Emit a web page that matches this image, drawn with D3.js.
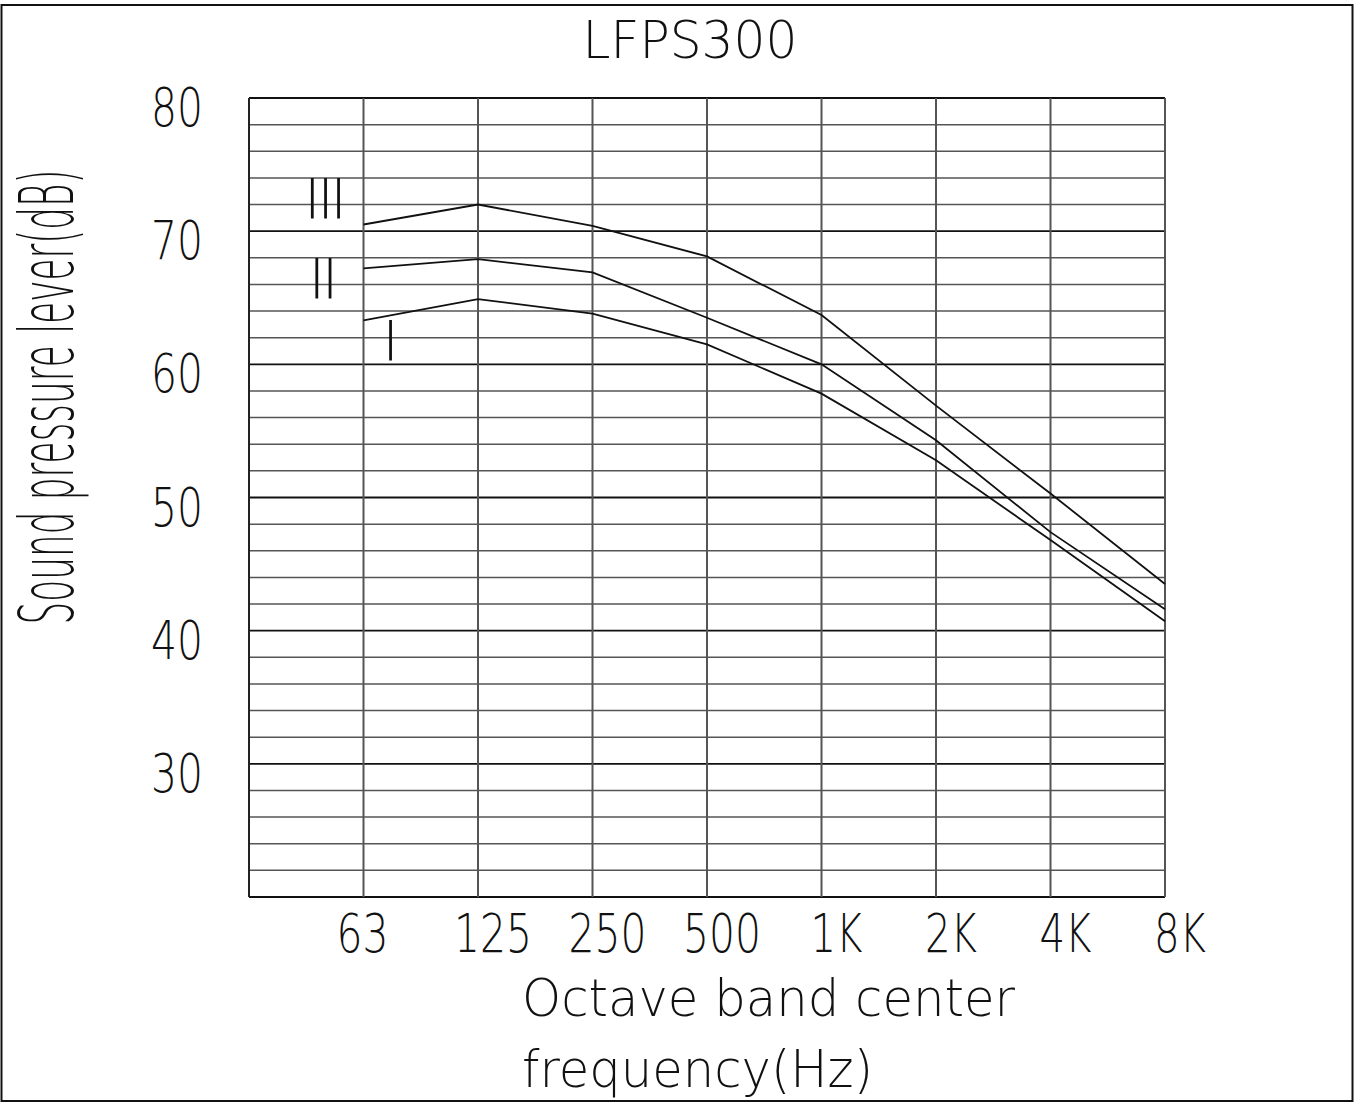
<!DOCTYPE html>
<html>
  <head>
    <meta charset="utf-8">
    <title>LFPS300</title>
    <script src="https://d3js.org/d3.v7.min.js"></script>
    <style>
      body { margin: 0; background: #fff; }
      text { font-family: "DejaVu Sans", sans-serif; font-weight: 200; fill: #111; }
    </style>
  </head>
  <body>
    <script type="text/javascript">

      //Data
      var bands = ["63", "125", "250", "500", "1K", "2K", "4K", "8K"];
      var seriesNames = ["III", "II", "I"];
      var levelIII = [70.5, 72.0, 70.4, 68.1, 63.7, 56.9, 50.3, 43.5];
      var levelII  = [67.2, 67.9, 66.9, 63.5, 60.0, 54.3, 47.4, 41.6];
      var levelI   = [63.3, 64.9, 63.8, 61.5, 57.8, 52.8, 46.8, 40.7];
      var yTicks = [30, 40, 50, 60, 70, 80];

      var series = [levelIII, levelII, levelI];

      //Width and height
      var w = 1355;
      var h = 1103;

      var svg = d3.select("body")
                  .append("svg")
                  .attr("width", w)
                  .attr("height", h);

      //Outer frame
      svg.append("rect")
         .attr("x", 1.5)
         .attr("y", 5)
         .attr("width", 1351)
         .attr("height", 1096)
         .attr("fill", "none")
         .attr("stroke", "#111")
         .attr("stroke-width", 2);

      //Scales (first column is left empty, 63 Hz sits on the 2nd line)
      var xScale = d3.scaleLinear()
                     .domain([-1, bands.length - 1])
                     .range([249, 1165]);

      var yScale = d3.scaleLinear()
                     .domain([20, 80])
                     .range([897, 98]);

      //Horizontal grid, every 2 dB
      var gridY = d3.range(20, 81, 2);
      svg.append("g")
         .selectAll("line")
         .data(gridY)
         .enter()
         .append("line")
         .attr("x1", xScale(-1))
         .attr("x2", xScale(bands.length - 1))
         .attr("y1", function(d) { return yScale(d); })
         .attr("y2", function(d) { return yScale(d); })
         .attr("stroke", function(d) { return d % 10 === 0 ? "#111" : "#555"; })
         .attr("stroke-width", function(d) { return d % 10 === 0 ? 1.8 : 1.5; });

      //Vertical grid
      svg.append("g")
         .selectAll("line")
         .data(d3.range(-1, bands.length))
         .enter()
         .append("line")
         .attr("x1", function(d) { return xScale(d); })
         .attr("x2", function(d) { return xScale(d); })
         .attr("y1", yScale(80))
         .attr("y2", yScale(20))
         .attr("stroke", function(d) { return d === -1 ? "#222" : "#555"; })
         .attr("stroke-width", 2);

      //Curves
      var line = d3.line()
                   .x(function(d, i) { return xScale(i); })
                   .y(function(d) { return yScale(d); });

      svg.append("g")
         .selectAll("path")
         .data(series)
         .enter()
         .append("path")
         .attr("d", line)
         .attr("fill", "none")
         .attr("stroke", "#111")
         .attr("stroke-width", 1.8);

      //Series labels (roman numerals)
      var labelPos = [[324, 218], [322, 298], [389, 360]];
      svg.selectAll(".serieslabel")
         .data(seriesNames)
         .enter()
         .append("text")
         .attr("class", "serieslabel")
         .attr("x", function(d, i) { return labelPos[i][0]; })
         .attr("y", function(d, i) { return labelPos[i][1]; })
         .attr("text-anchor", "middle")
         .attr("font-size", "55px")
         .style("letter-spacing", "-3px")
         .text(function(d) { return d; });

      //Y tick labels
      svg.selectAll(".ytick")
         .data(yTicks)
         .enter()
         .append("text")
         .attr("class", "ytick")
         .attr("x", 177)
         .attr("y", function(d) { return yScale(d) + 28; })
         .attr("text-anchor", "middle")
         .attr("font-size", "53px")
         .attr("textLength", 52)
         .attr("lengthAdjust", "spacingAndGlyphs")
         .text(function(d) { return d; });

      //X tick labels
      svg.selectAll(".xtick")
         .data(bands)
         .enter()
         .append("text")
         .attr("class", "xtick")
         .attr("x", function(d, i) { return xScale(i) + (i === 0 ? -1 : 15); })
         .attr("y", 952)
         .attr("text-anchor", "middle")
         .attr("font-size", "53px")
         .attr("textLength", function(d) { return d.length * 26; })
         .attr("lengthAdjust", "spacingAndGlyphs")
         .text(function(d) { return d; });

      //Title
      svg.append("text")
         .attr("x", 690)
         .attr("y", 58)
         .attr("text-anchor", "middle")
         .attr("font-size", "52px")
         .attr("textLength", 215)
         .attr("lengthAdjust", "spacingAndGlyphs")
         .text("LFPS300");

      //X axis title
      svg.append("text")
         .attr("x", 522)
         .attr("y", 1016)
         .attr("font-size", "52px")
         .attr("textLength", 493)
         .attr("lengthAdjust", "spacingAndGlyphs")
         .text("Octave band center");

      svg.append("text")
         .attr("x", 522)
         .attr("y", 1087)
         .attr("font-size", "52px")
         .attr("textLength", 351)
         .attr("lengthAdjust", "spacingAndGlyphs")
         .text("frequency(Hz)");

      //Y axis title
      svg.append("text")
         .attr("transform", "translate(73, 397) rotate(-90)")
         .attr("text-anchor", "middle")
         .attr("font-size", "74px")
         .attr("textLength", 455)
         .attr("lengthAdjust", "spacingAndGlyphs")
         .text("Sound pressure lever(dB)");

    </script>
  </body>
</html>
